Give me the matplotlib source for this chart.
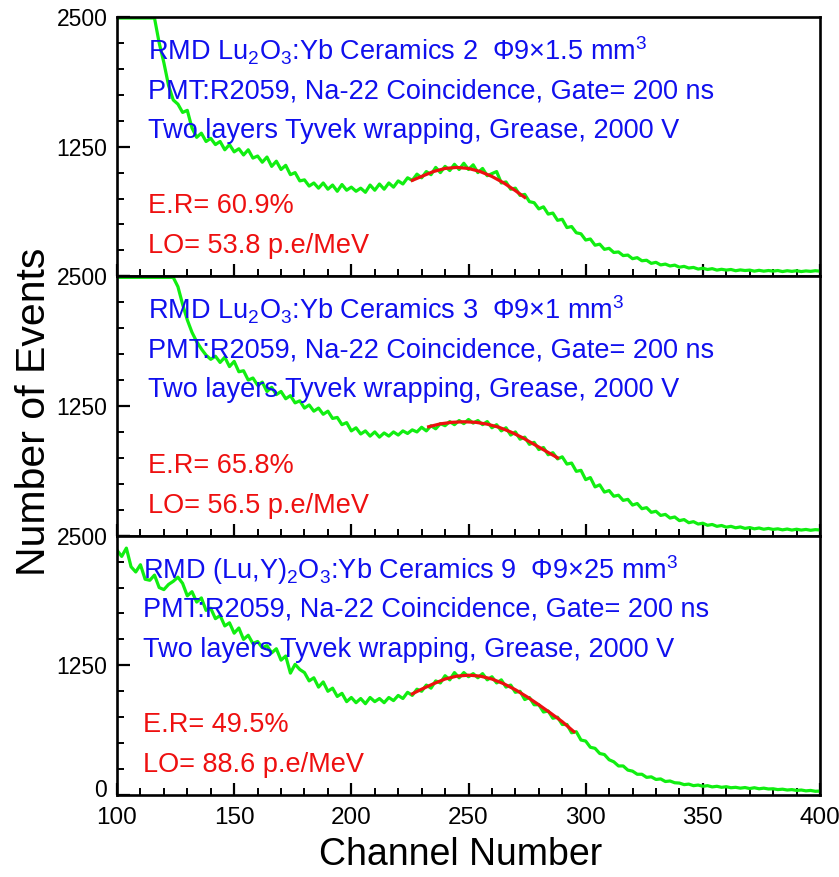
import numpy as np
import matplotlib
matplotlib.use('Agg')
import matplotlib.pyplot as plt
import matplotlib.transforms as mtransforms
from matplotlib.ticker import MultipleLocator

plt.rcParams['font.family'] = ['Liberation Sans', 'DejaVu Sans']
plt.rcParams['mathtext.fontset'] = 'custom'
plt.rcParams['mathtext.rm'] = 'Liberation Sans'
plt.rcParams['mathtext.it'] = 'Liberation Sans:italic'
plt.rcParams['mathtext.bf'] = 'Liberation Sans:bold'

# ---------------- data ----------------
channels = np.arange(100, 401, 2)

counts_c2 = [
    2490, 2490, 2490, 2490, 2490, 2490, 2490, 2490, 2490, 2250,
    2060, 1840, 1700, 1660, 1580, 1600, 1430, 1340, 1380, 1300,
    1330, 1270, 1300, 1220, 1270, 1200, 1230, 1170, 1220, 1140,
    1160, 1100, 1150, 1060, 1110, 1030, 1070, 980, 1000, 920,
    930, 870, 900, 850, 900, 840, 880, 820, 885, 830,
    860, 820, 850, 810, 880, 830, 890, 840, 900, 860,
    920, 890, 950, 925, 985, 950, 1010, 980, 1050, 1000,
    1060, 1020, 1080, 1030, 1090, 1030, 1075, 1000, 1040, 970,
    990, 1010, 900, 910, 840, 850, 780, 790, 720, 710,
    650, 670, 600, 610, 540, 550, 470, 480, 420, 410,
    350, 360, 300, 310, 260, 270, 230, 235, 200, 205,
    170, 180, 150, 155, 125, 135, 110, 118, 100, 108,
    88, 96, 80, 86, 70, 78, 66, 74, 60, 68,
    60, 66, 54, 62, 56, 60, 50, 58, 50, 56,
    50, 56, 46, 54, 48, 54, 46, 52, 48, 54,
    50]

counts_c3 = [
    2490, 2490, 2490, 2490, 2490, 2490, 2490, 2490, 2490, 2490,
    2490, 2490, 2490, 2400, 2230, 2080, 1960, 1870, 1800, 1740,
    1700, 1730, 1670, 1720, 1630, 1680, 1580, 1590, 1500, 1520,
    1450, 1480, 1390, 1430, 1360, 1390, 1320, 1350, 1280, 1300,
    1230, 1260, 1200, 1230, 1170, 1200, 1130, 1140, 1070, 1090,
    1010, 1040, 980, 1010, 960, 1000, 950, 990, 960, 1000,
    970, 1010, 985, 1020, 1000, 1045, 1010, 1060, 1030, 1080,
    1060, 1100, 1070, 1110, 1080, 1120, 1085, 1110, 1070, 1100,
    1040, 1070, 1010, 1040, 970, 1000, 930, 950, 880, 900,
    830, 850, 780, 800, 740, 760, 690, 700, 620, 630,
    540, 560, 470, 490, 420, 435, 380, 390, 340, 350,
    295, 310, 260, 270, 225, 235, 195, 205, 170, 180,
    145, 155, 125, 135, 112, 120, 100, 108, 90, 98,
    82, 90, 76, 84, 70, 78, 66, 74, 62, 70,
    60, 66, 56, 64, 54, 62, 54, 60, 52, 58,
    55]

counts_c9 = [
    2360, 2300, 2380, 2200, 2150, 2220, 2080, 2070, 2120, 2000,
    1980, 2030, 2060, 2100, 2040, 1920, 1960, 1860, 1900, 1780,
    1800, 1700, 1730, 1630, 1660, 1560, 1610, 1500, 1540, 1460,
    1480, 1420, 1440, 1370, 1410, 1300, 1340, 1175, 1260, 1210,
    1180, 1100, 1130, 1040, 1090, 1000, 1030, 950, 980, 900,
    940, 890, 930, 880, 940, 900, 930, 890, 940, 910,
    960, 930, 990, 960, 1020, 1000, 1060, 1030, 1100, 1080,
    1150, 1110, 1180, 1130, 1180, 1140, 1170, 1130, 1170, 1110,
    1140, 1080, 1110, 1040, 1060, 990, 1000, 920, 940, 870,
    870, 800, 810, 740, 750, 680, 680, 600, 610, 530,
    520, 460, 450, 400, 390, 340, 320, 280, 280, 240,
    230, 200, 200, 170, 175, 150, 155, 130, 135, 118,
    115, 100, 105, 90, 96, 84, 90, 78, 84, 74,
    80, 70, 74, 66, 72, 62, 70, 60, 66, 58,
    60, 52, 56, 48, 52, 44, 48, 40, 44, 36,
    38]

fit_ch_c2 = [226, 230, 235, 240, 245, 250, 255, 260, 265, 270, 274]
fit_c2 = [925, 963, 1010, 1040, 1050, 1040, 1010, 963, 901, 826, 761]

fit_ch_c3 = [233, 238, 243, 248, 253, 258, 263, 268, 273, 278, 283, 288]
fit_c3 = [1050, 1078, 1093, 1098, 1093, 1075, 1045, 1000, 945, 880, 815, 751]

fit_ch_c9 = [226, 230, 235, 240, 245, 250, 255, 260, 265, 270, 275, 280, 285, 290, 295]
fit_c9 = [975, 1020, 1072, 1118, 1146, 1155, 1146, 1118, 1073, 1015, 946, 870, 790, 707, 610]

titles = [
    "RMD Lu$_2$O$_3$:Yb Ceramics 2  \u03a69\u00d71.5 mm$^3$",
    "RMD Lu$_2$O$_3$:Yb Ceramics 3  \u03a69\u00d71 mm$^3$",
    "RMD (Lu,Y)$_2$O$_3$:Yb Ceramics 9  \u03a69\u00d725 mm$^3$",
]
line2 = "PMT:R2059, Na-22 Coincidence, Gate= 200 ns"
line3 = "Two layers Tyvek wrapping, Grease, 2000 V"
er_texts = ["E.R= 60.9%", "E.R= 65.8%", "E.R= 49.5%"]
lo_texts = ["LO= 53.8 p.e/MeV", "LO= 56.5 p.e/MeV", "LO= 88.6 p.e/MeV"]

spectra = [counts_c2, counts_c3, counts_c9]
fits = [(fit_ch_c2, fit_c2), (fit_ch_c3, fit_c3), (fit_ch_c9, fit_c9)]

# ---------------- figure ----------------
W, H = 839, 877
fig = plt.figure(figsize=(W / 100, H / 100), dpi=100)

left_px, right_px = 117, 820
top_px, bottom_px = 17, 795
ph = (bottom_px - top_px) / 3.0

green = '#11ee11'
blue = '#1010ee'
red = '#ee1010'
fs_txt = 19.5

for i in range(3):
    y0 = top_px + ph * (i + 1)
    ax = fig.add_axes([left_px / W, 1 - y0 / H, (right_px - left_px) / W, ph / H])
    ax.plot(channels, spectra[i], color=green, lw=2.3, zorder=2)
    ax.plot(fits[i][0], fits[i][1], color=red, lw=2.3, zorder=3)
    ax.set_xlim(100, 400)
    ax.set_ylim(0, 2500)
    ax.xaxis.set_major_locator(MultipleLocator(50))
    ax.xaxis.set_minor_locator(MultipleLocator(10))
    ax.set_yticks([0, 1250, 2500])
    ax.yaxis.set_minor_locator(MultipleLocator(250))
    if i < 2:
        ax.set_yticklabels(['', '1250', '2500'])
        ax.tick_params(axis='x', labelbottom=False)
    else:
        ax.set_yticklabels(['0', '1250', '2500'])
    ax.tick_params(which='major', direction='in', length=9, width=1.6,
                   pad=7, top=False, right=False)
    ax.tick_params(axis='y', which='major', labelsize=16.5)
    ax.tick_params(axis='x', which='major', labelsize=17.5, pad=9)
    ax.tick_params(which='minor', direction='in', length=5, width=1.4,
                   top=False, right=False)
    for s in ax.spines.values():
        s.set_linewidth(1.9)
    if i == 2:
        # raise the "0" label a little so it clears the "100" label below it
        lab0 = ax.get_yticklabels()[0]
        lab0.set_transform(lab0.get_transform() +
                           mtransforms.ScaledTranslation(0, 5 / 72, fig.dpi_scale_trans))
    xt = 0.044 if i < 2 else 0.037
    ax.text(xt, 0.869, titles[i], transform=ax.transAxes, color=blue,
            fontsize=fs_txt, va='center', ha='left', zorder=4)
    ax.text(xt, 0.714, line2, transform=ax.transAxes, color=blue,
            fontsize=fs_txt, va='center', ha='left', zorder=4)
    ax.text(xt, 0.560, line3, transform=ax.transAxes, color=blue,
            fontsize=fs_txt, va='center', ha='left', zorder=4)
    ax.text(xt, 0.270, er_texts[i], transform=ax.transAxes, color=red,
            fontsize=fs_txt, va='center', ha='left', zorder=4)
    ax.text(xt, 0.116, lo_texts[i], transform=ax.transAxes, color=red,
            fontsize=fs_txt, va='center', ha='left', zorder=4)

fig.text(34 / W, 1 - 412 / H, 'Number of Events', rotation=90, fontsize=29.5,
         va='center', ha='center')
fig.text(461 / W, 1 - 855 / H, 'Channel Number', fontsize=27,
         va='center', ha='center')

fig.savefig('out.png', dpi=100)
